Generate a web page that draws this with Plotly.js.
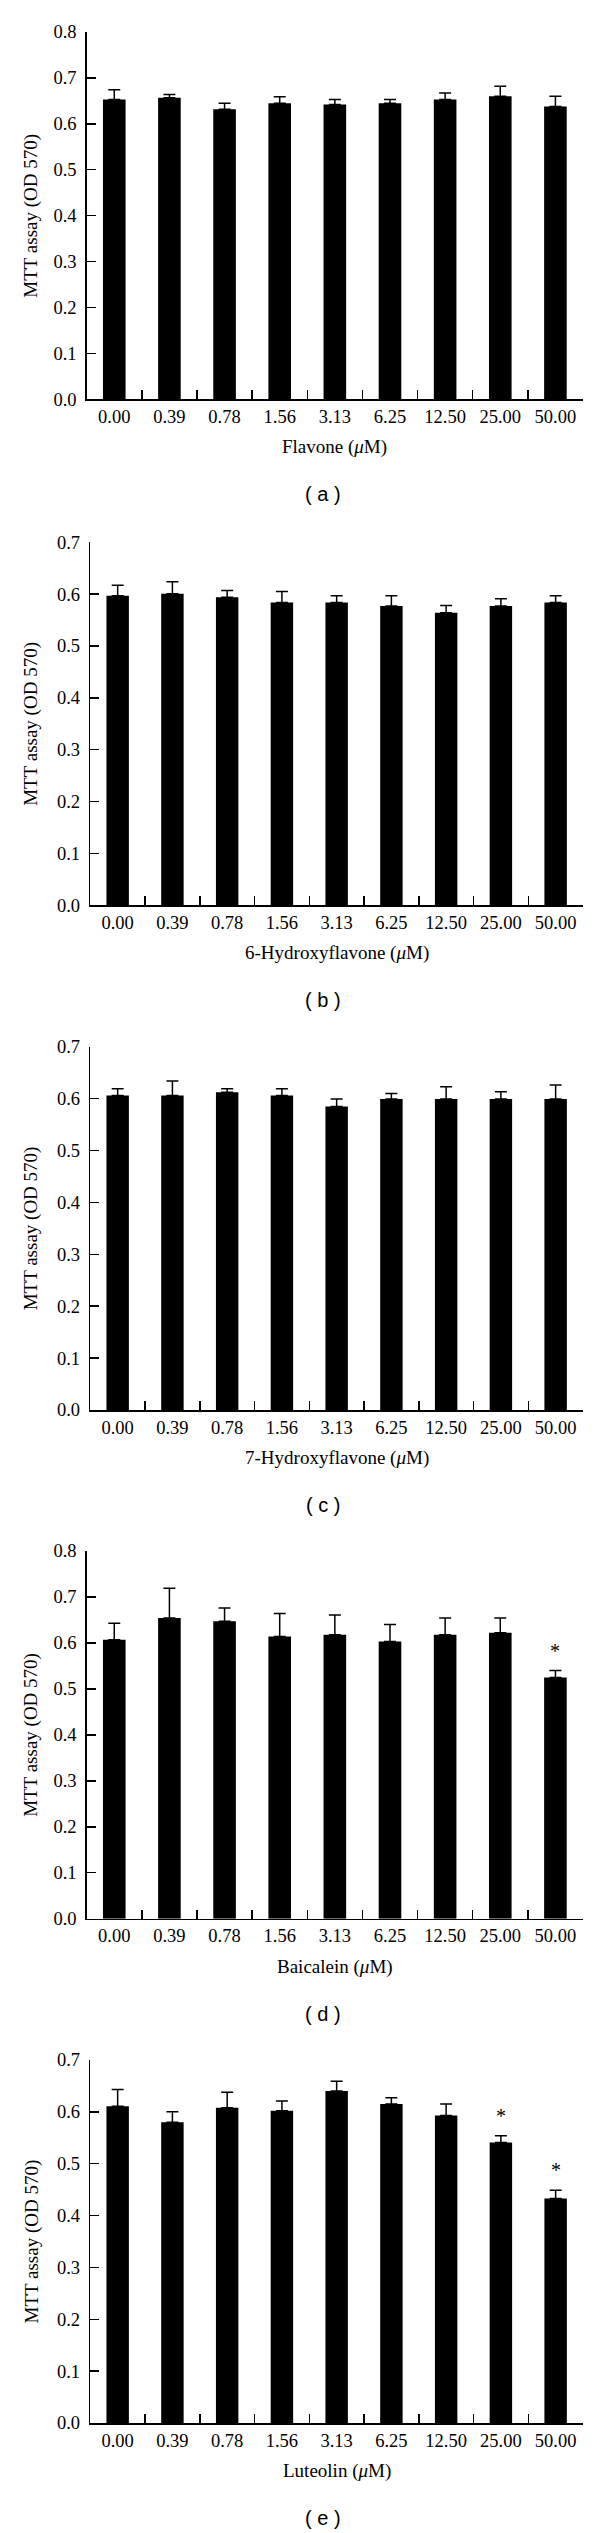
<!DOCTYPE html>
<html>
<head>
<meta charset="utf-8">
<script src="https://cdn.plot.ly/plotly-3.0.1.min.js"></script>
<style>
  body { margin: 0; background: #fff; }
  #chart { width: 600px; height: 2533px; }
</style>
</head>
<body>
<div id="chart"></div>
<script>
// doses on the x axis (uM), same for every panel
let doses = ['0.00', '0.39', '0.78', '1.56', '3.13', '6.25', '12.50', '25.00', '50.00'];

// MTT assay (OD 570), mean and upper error
let flavone_mean = [0.653, 0.657, 0.632, 0.645, 0.642, 0.645, 0.653, 0.660, 0.638];
let flavone_err  = [0.021, 0.007, 0.013, 0.014, 0.011, 0.008, 0.014, 0.022, 0.022];

let hydroxy6_mean = [0.597, 0.601, 0.594, 0.584, 0.584, 0.577, 0.564, 0.577, 0.584];
let hydroxy6_err  = [0.020, 0.023, 0.013, 0.021, 0.013, 0.020, 0.014, 0.014, 0.013];

let hydroxy7_mean = [0.606, 0.606, 0.612, 0.606, 0.585, 0.599, 0.599, 0.599, 0.599];
let hydroxy7_err  = [0.013, 0.028, 0.007, 0.013, 0.014, 0.011, 0.024, 0.014, 0.027];

let baicalein_mean = [0.607, 0.654, 0.647, 0.614, 0.618, 0.603, 0.618, 0.622, 0.525];
let baicalein_err  = [0.036, 0.065, 0.029, 0.050, 0.043, 0.037, 0.036, 0.032, 0.015];

let luteolin_mean = [0.611, 0.580, 0.608, 0.602, 0.640, 0.615, 0.593, 0.541, 0.433];
let luteolin_err  = [0.032, 0.020, 0.030, 0.019, 0.019, 0.012, 0.022, 0.013, 0.016];

// significance marks (*)
let baicalein_star = [false, false, false, false, false, false, false, false, true];
let luteolin_star  = [false, false, false, false, false, false, false, true, true];
let no_star = [false, false, false, false, false, false, false, false, false];

let compound_names = ['Flavone', '6-Hydroxyflavone', '7-Hydroxyflavone', 'Baicalein', 'Luteolin'];
let panel_letters = ['a', 'b', 'c', 'd', 'e'];
let y_max = [0.8, 0.7, 0.7, 0.8, 0.7];

let means = [flavone_mean, hydroxy6_mean, hydroxy7_mean, baicalein_mean, luteolin_mean];
let errs = [flavone_err, hydroxy6_err, hydroxy7_err, baicalein_err, luteolin_err];
let stars = [no_star, no_star, no_star, baicalein_star, luteolin_star];

// pixel geometry of each panel (left, right, top, bottom)
const W = 600, H = 2533;
let boxes = [
	[86.7, 583, 32, 399.3],
	[90.3, 583, 542.3, 905.3],
	[90.3, 583, 1046.7, 1410],
	[86.7, 583, 1551, 1918.7],
	[90.3, 583, 2060, 2423]
];

const serif = 'Liberation Serif, Times New Roman, serif';
let traces = [];
let annotations = [];
let layout = {
	width: W,
	height: H,
	margin: {l: 0, r: 0, t: 0, b: 0},
	paper_bgcolor: '#fff',
	plot_bgcolor: '#fff',
	showlegend: false,
	bargap: 0.59,
	font: {family: serif, size: 18, color: '#000'}
};

for (let i = 0; i < 5; i++)
{
	let n = i == 0 ? '' : String(i + 1);
	let b = boxes[i];
	traces.push({
		type: 'bar',
		x: doses,
		y: means[i],
		xaxis: 'x' + n,
		yaxis: 'y' + n,
		marker: {color: '#000', line: {width: 0}},
		error_y: {
			type: 'data',
			symmetric: false,
			array: errs[i],
			arrayminus: errs[i].map(function () { return 0; }),
			color: '#000',
			thickness: 1.5,
			width: 6
		},
		hoverinfo: 'none'
	});

	layout['xaxis' + n] = {
		domain: [b[0] / W, b[1] / W],
		anchor: 'y' + n,
		type: 'category',
		range: [-0.5, doses.length - 0.5],
		showline: true,
		linecolor: '#000',
		linewidth: 1.5,
		ticks: 'inside',
		tickson: 'boundaries',
		ticklen: 9,
		tickwidth: 1.5,
		tickcolor: '#000',
		ticklabelstandoff: 0,
		tickangle: 0,
		showgrid: false,
		zeroline: false,
		fixedrange: true,
		tickfont: {family: serif, size: 18.5, color: '#000'}
	};
	layout['yaxis' + n] = {
		domain: [1 - b[3] / H, 1 - b[2] / H],
		anchor: 'x' + n,
		range: [0, y_max[i]],
		dtick: 0.1,
		tick0: 0,
		tickformat: '.1f',
		showline: true,
		linecolor: '#000',
		linewidth: 1.5,
		ticks: 'inside',
		ticklen: 9,
		tickwidth: 1.5,
		tickcolor: '#000',
		ticklabelstandoff: 5,
		showgrid: false,
		zeroline: false,
		fixedrange: true,
		tickfont: {family: serif, size: 18.5, color: '#000'}
	};

	// y title
	annotations.push({
		xref: 'paper', yref: 'paper',
		x: 31 / W, y: 1 - (b[2] + b[3]) / 2 / H,
		text: 'MTT assay (OD 570)',
		textangle: -90,
		showarrow: false,
		xanchor: 'center', yanchor: 'middle',
		font: {family: serif, size: 19, color: '#000'}
	});
	// x title
	annotations.push({
		xref: 'paper', yref: 'paper',
		x: (b[0] + b[1]) / 2 / W, y: 1 - (b[3] + 48) / H,
		text: compound_names[i] + ' (<i>μ</i>M)',
		showarrow: false,
		xanchor: 'center', yanchor: 'middle',
		font: {family: serif, size: 19, color: '#000'}
	});
	// panel letter
	annotations.push({
		xref: 'paper', yref: 'paper',
		x: 323 / W, y: 1 - (b[3] + 95) / H,
		text: '( ' + panel_letters[i] + ' )',
		showarrow: false,
		xanchor: 'center', yanchor: 'middle',
		font: {family: 'Liberation Sans, Arial, sans-serif', size: 20, color: '#000'}
	});
	// stars (category index as x)
	for (let k = 0; k < doses.length; k++)
	{
		if (stars[i][k])
		{
			annotations.push({
				xref: 'x' + n, yref: 'y' + n,
				x: k, y: means[i][k] + errs[i][k],
				text: '*',
				showarrow: false,
				xanchor: 'center', yanchor: 'middle',
				yshift: 20,
				font: {family: serif, size: 20, color: '#000'}
			});
		}
	}
}
layout.annotations = annotations;

Plotly.newPlot(document.getElementById('chart'), traces, layout, {staticPlot: true, displayModeBar: false});
</script>
</body>
</html>
